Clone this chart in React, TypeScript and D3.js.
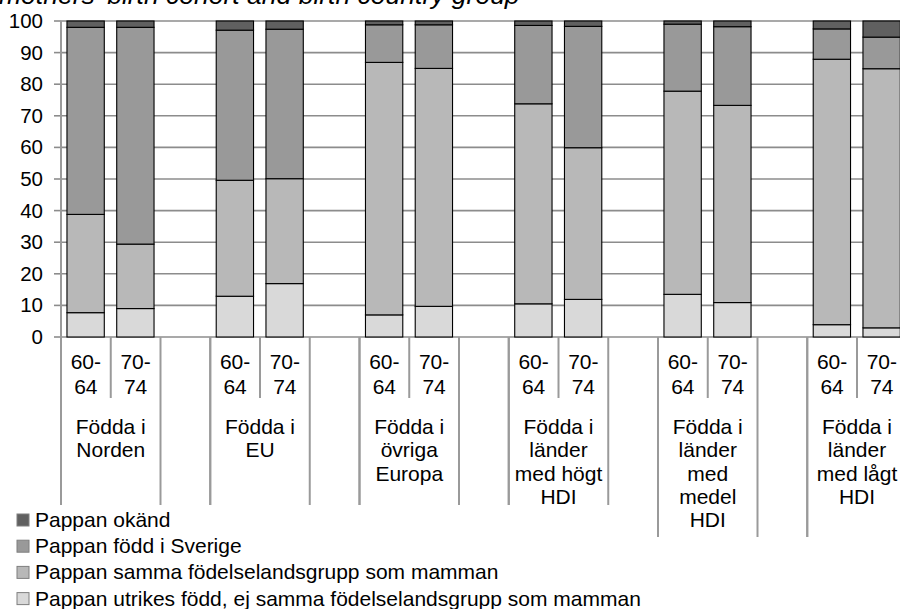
import React from "react";
import * as d3 from "d3";

const groupLabels: string[][] = [
  ["Födda i", "Norden"],
  ["Födda i", "EU"],
  ["Födda i", "övriga", "Europa"],
  ["Födda i", "länder", "med högt", "HDI"],
  ["Födda i", "länder", "med", "medel", "HDI"],
  ["Födda i", "länder", "med lågt", "HDI"],
];
const cohorts: string[][] = [["60-", "64"], ["70-", "74"]];

const seriesNames = [
  "Pappan utrikes född, ej samma födelselandsgrupp som mamman",
  "Pappan samma födelselandsgrupp som mamman",
  "Pappan född i Sverige",
  "Pappan okänd",
];
const utrikes = [7.7, 9.0, 12.9, 16.9, 7.0, 9.7, 10.5, 11.9, 13.5, 10.9, 3.9, 2.9];
const samma = [31.1, 20.4, 36.7, 33.2, 79.9, 75.3, 63.3, 48.0, 64.3, 62.4, 84.0, 82.0];
const sverige = [59.2, 68.6, 47.5, 47.3, 11.9, 13.8, 24.8, 38.4, 21.2, 24.9, 9.6, 10.0];
const okand = [2.0, 2.0, 2.9, 2.6, 1.2, 1.2, 1.4, 1.7, 1.0, 1.8, 2.5, 5.1];
const yTicks = [0, 10, 20, 30, 40, 50, 60, 70, 80, 90, 100];
const colors = ["#d9d9d9", "#b8b8b8", "#999999", "#606060"];
const title = "mothers' birth cohort and birth country group";

export default function App() {
  const W = 900, H = 609;
  const x0 = 61, step = 49.75;
  const slots: { id: string; g: number; c: number }[] = [];
  groupLabels.forEach((_, g) => {
    slots.push({ id: `g${g}c0`, g, c: 0 });
    slots.push({ id: `g${g}c1`, g, c: 1 });
    slots.push({ id: `g${g}sp`, g, c: -1 });
  });
  const x = d3
    .scaleBand<string>()
    .domain(slots.map((s) => s.id))
    .range([x0, x0 + step * slots.length])
    .padding(0);
  const bw = x.bandwidth();
  const y = d3.scaleLinear().domain([0, 100]).range([337, 21]);

  const rows = utrikes.map((_, i) => ({
    id: `g${Math.floor(i / 2)}c${i % 2}`,
    s0: utrikes[i],
    s1: samma[i],
    s2: sverige[i],
    s3: okand[i],
  }));
  const stack = d3.stack<any>().keys(["s0", "s1", "s2", "s3"]);
  const stacked = stack(rows);

  const xEnd = W + 20;
  const fontFamily = "'Liberation Sans', Arial, sans-serif";
  const gridColor = "#8c8c8c";
  const axisColor = "#9a9a9a";

  const boundaries: { xb: number; long: boolean }[] = [];
  const groupSpans: { x1: number; x2: number; lines: string[] }[] = [];
  groupLabels.forEach((lbl, g) => {
    const a = x(`g${g}c0`)!;
    const b = x(`g${g}sp`)!;
    const c = b + bw;
    groupSpans.push({ x1: a, x2: b, lines: lbl });
    const longNow = g >= 4;
    boundaries.push({ xb: a, long: longNow });
    boundaries.push({ xb: b, long: longNow });
    boundaries.push({ xb: c, long: longNow });
  });

  const lvl1Base = [369, 394];
  const lvl2Base0 = 434;
  const lvl2Step = 23.3;
  const fs = 21;

  const legendItems = [3, 2, 1, 0];

  return (
    <svg
      width={W}
      height={H}
      style={{ position: "absolute", left: 0, top: 0, background: "#fff" }}
      fontFamily={fontFamily}
    >
      <rect width={W} height={H} fill="#fff" />
      <text x={-1} y={4} fontSize={26.5} fontStyle="italic" fill="#000">
        {title}
      </text>
      {yTicks.map((t) => (
        <g key={t}>
          <line x1={x0} x2={xEnd} y1={y(t)} y2={y(t)} stroke={gridColor} strokeWidth={1.6} />
          <line x1={54} x2={x0} y1={y(t)} y2={y(t)} stroke={gridColor} strokeWidth={1.6} />
          <text x={43} y={y(t) + 7} fontSize={20.5} textAnchor="end" fill="#000">
            {t}
          </text>
        </g>
      ))}
      {stacked.map((layer, li) => (
        <g key={li}>
          {layer.map((d: any, i: number) => (
            <rect
              key={i}
              x={x(d.data.id)! + bw * 0.12}
              width={bw * 0.75}
              y={y(d[1])}
              height={y(d[0]) - y(d[1])}
              fill={colors[li]}
              stroke="#000"
              strokeWidth={1.1}
            />
          ))}
        </g>
      ))}
      <line x1={x0} x2={x0} y1={y(100)} y2={y(0)} stroke={axisColor} strokeWidth={2} />
      {slots
        .filter((s) => s.c === 1)
        .map((s) => (
          <line key={s.id} x1={x(s.id)!} x2={x(s.id)!} y1={y(0)} y2={398} stroke={axisColor} strokeWidth={2} />
        ))}
      {boundaries.map((b, i) => (
        <line key={i} x1={b.xb} x2={b.xb} y1={y(0)} y2={b.long ? 537 : 505} stroke={axisColor} strokeWidth={2} />
      ))}
      {slots
        .filter((s) => s.c >= 0)
        .map((s) =>
          cohorts[s.c].map((ln, k) => (
            <text
              key={s.id + k}
              x={x(s.id)! + bw / 2}
              y={lvl1Base[k]}
              fontSize={fs}
              textAnchor="middle"
              fill="#000"
            >
              {ln}
            </text>
          ))
        )}
      {groupSpans.map((gs, g) =>
        gs.lines.map((ln, k) => (
          <text
            key={g + "-" + k}
            x={(gs.x1 + gs.x2) / 2}
            y={lvl2Base0 + k * lvl2Step}
            fontSize={fs}
            textAnchor="middle"
            fill="#000"
          >
            {ln}
          </text>
        ))
      )}
      {legendItems.map((si, k) => {
        const cy = 520 + k * 26.2;
        return (
          <g key={si}>
            <rect x={17} y={cy - 6} width={12} height={12} fill={colors[si]} stroke="#7f7f7f" strokeWidth={1} />
            <text x={35} y={cy + 7} fontSize={fs} fill="#000">
              {seriesNames[si]}
            </text>
          </g>
        );
      })}
    </svg>
  );
}
